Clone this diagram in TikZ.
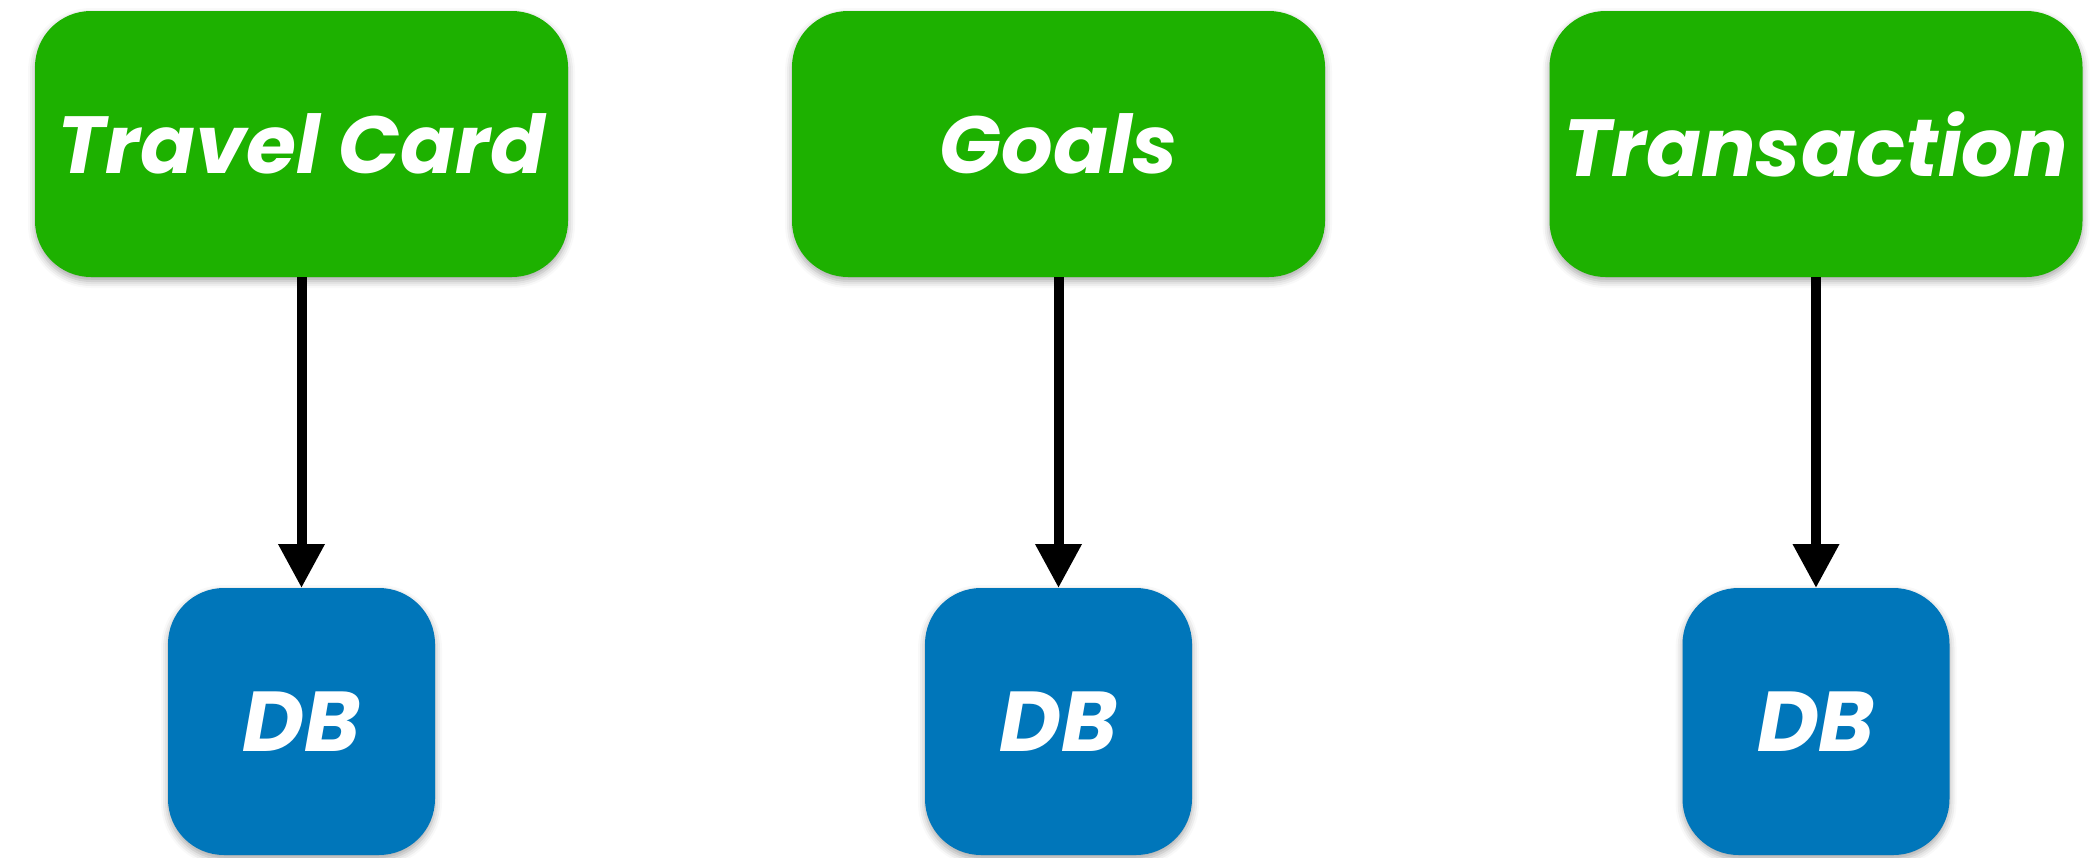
\documentclass[tikz,border=0pt]{standalone}
\usepackage{fontspec}
\newfontfamily\popfont{Poppins}[UprightFont=*-BoldItalic]
\usetikzlibrary{arrows.meta,shadows.blur}
\definecolor{kgreen}{HTML}{1DB100}
\definecolor{kblue}{HTML}{0076BA}
\tikzset{
  svcbox/.style={rectangle, rounded corners=56pt, fill=kgreen, draw=none,
    minimum width=533pt, minimum height=266pt, inner sep=0pt, outer sep=0pt,
    text=white, font=\popfont\fontsize{81}{83}\selectfont,
    blur shadow={shadow xshift=0pt, shadow yshift=-4pt, shadow blur radius=7pt, shadow opacity=35}},
  dbbox/.style={rectangle, rounded corners=56pt, fill=kblue, draw=none,
    minimum width=267pt, minimum height=267pt, inner sep=0pt, outer sep=0pt,
    text=white, font=\popfont\fontsize{85}{87}\selectfont,
    blur shadow={shadow xshift=0pt, shadow yshift=-4pt, shadow blur radius=7pt, shadow opacity=35}},
  flow/.style={line width=10pt, -{Triangle[length=44pt,width=44pt]}}
}
\begin{document}
\begin{tikzpicture}[x=1pt,y=-1pt]
\useasboundingbox (0,0) rectangle (2091,857);
\node[svcbox] (g1) at (301.5,144) {Travel Card};
\node[svcbox] (g2) at (1058.5,144) {Goals};
\node[svcbox] (g3) at (1816,144) {Transaction};
\node[dbbox] (d1) at (301.5,721.5) {DB};
\node[dbbox] (d2) at (1058.5,721.5) {DB};
\node[dbbox] (d3) at (1816,721.5) {DB};
\draw[flow] (g1.south) -- (d1.north);
\draw[flow] (g2.south) -- (d2.north);
\draw[flow] (g3.south) -- (d3.north);
\end{tikzpicture}
\end{document}
